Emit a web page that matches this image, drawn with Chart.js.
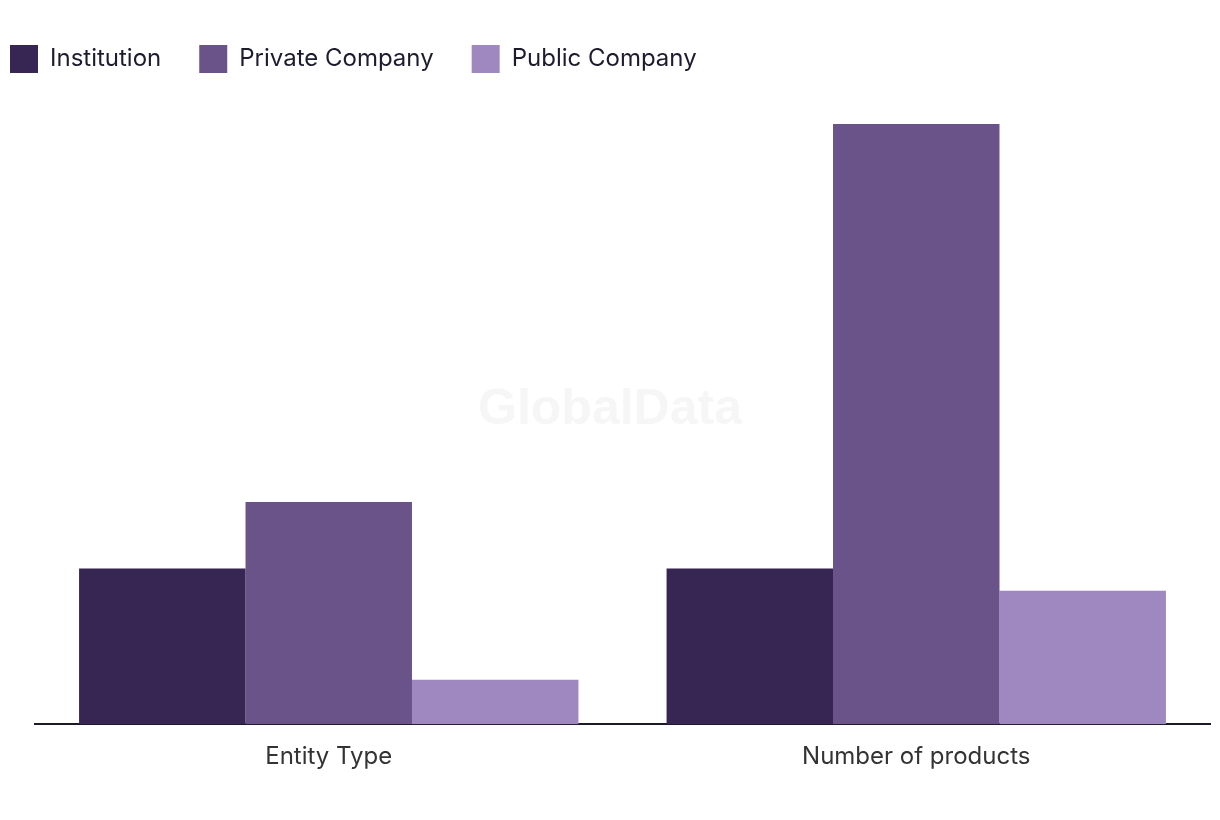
<!DOCTYPE html>
<html>
<head>
<meta charset="utf-8">
<script src="https://cdn.jsdelivr.net/npm/chart.js@4"></script>
<style>
  html, body { margin: 0; padding: 0; background: #fff; }
  #wrap { width: 1220px; height: 820px; position: relative; }
</style>
</head>
<body>
<div id="wrap"><canvas id="chart"></canvas></div>
<script>
// categories + series
const categories = ['Entity Type', 'Number of products'];
const institution = [7, 7];
const privateCompany = [10, 27];
const publicCompany = [2, 6];

const seriesNames = ['Institution', 'Private Company', 'Public Company'];
const seriesColours = ['#372554', '#6a5389', '#9f88c0'];

const FONT = 'Inter, "Noto Sans", sans-serif';
const LEGEND_GAP = 38;

// faint watermark behind bars
const watermark = {
  id: 'watermark',
  beforeDatasetsDraw(chart) {
    const { ctx } = chart;
    ctx.save();
    ctx.font = 'bold 50px "Liberation Sans", Arial, sans-serif';
    ctx.fillStyle = '#f6f6f6';
    ctx.textAlign = 'center';
    ctx.textBaseline = 'middle';
    ctx.fillText('GlobalData', 610, 410);
    ctx.restore();
  }
};

// push the plot down a little below the legend
const legendSpace = {
  id: 'legendSpace',
  beforeInit(chart) {
    const origFit = chart.legend.fit;
    chart.legend.fit = function () {
      origFit.call(this);
      this.height += 41;
    };
  }
};

new Chart(document.getElementById('chart'), {
  type: 'bar',
  data: {
    labels: categories,
    datasets: [institution, privateCompany, publicCompany].map((d, i) => ({
      label: seriesNames[i],
      data: d,
      backgroundColor: seriesColours[i],
      borderWidth: 0,
      categoryPercentage: 0.85,
      barPercentage: 1
    }))
  },
  options: {
    responsive: true,
    maintainAspectRatio: false,
    animation: false,
    layout: { padding: { left: 10 - LEGEND_GAP, right: 10, top: 7, bottom: 31 } },
    plugins: {
      tooltip: { enabled: false },
      legend: {
        position: 'top',
        align: 'start',
        labels: {
          boxWidth: 28,
          boxHeight: 28,
          padding: LEGEND_GAP,
          color: '#1c1c2e',
          font: { family: FONT, size: 24 }
        }
      }
    },
    scales: {
      x: {
        grid: { display: false, drawTicks: false },
        border: { display: true, color: '#1a1a2a', width: 2 },
        ticks: {
          color: '#333',
          padding: 18,
          font: { family: FONT, size: 24 }
        }
      },
      y: {
        min: 0,
        max: 27,
        grid: { display: false },
        border: { display: false },
        ticks: { display: false },
        afterFit(scale) { scale.width = 35 - (10 - LEGEND_GAP); }
      }
    }
  },
  plugins: [watermark, legendSpace]
});
</script>
</body>
</html>
